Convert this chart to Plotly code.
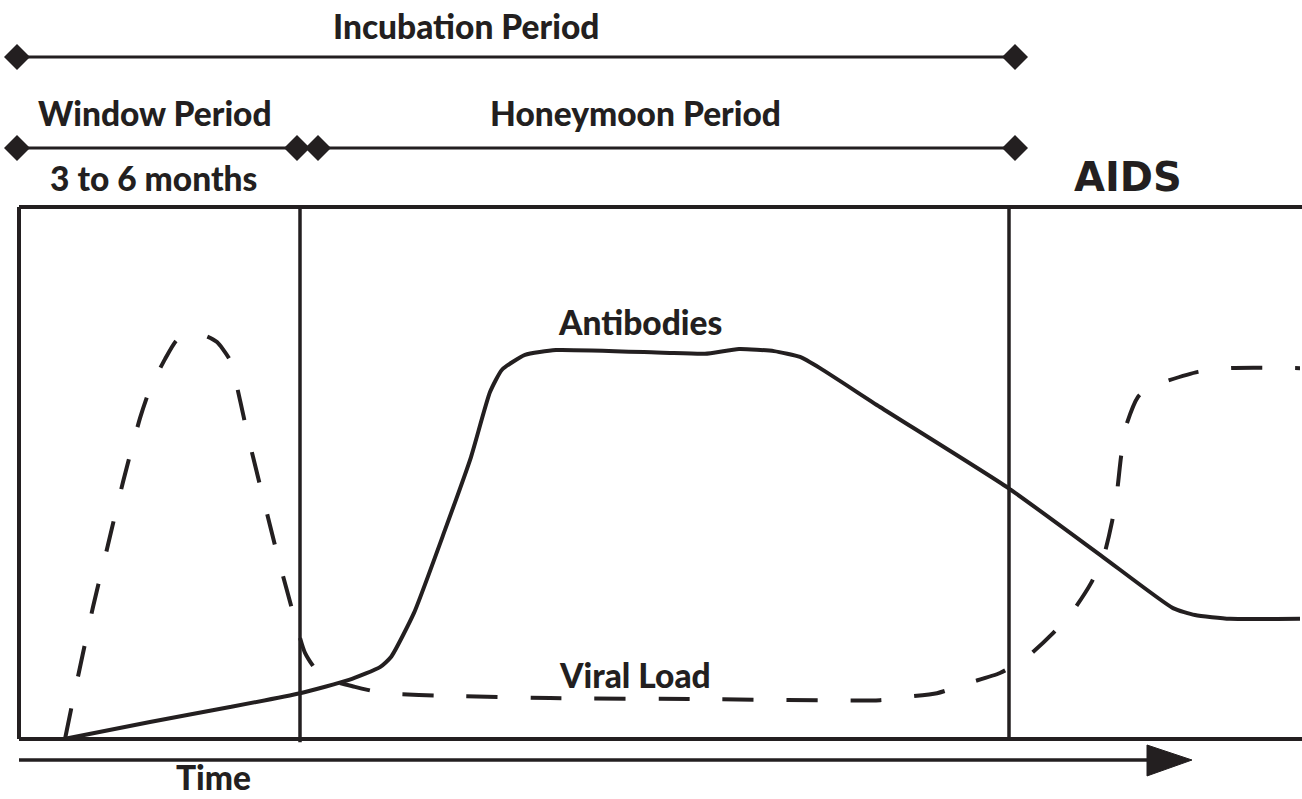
import plotly.graph_objects as go

# ---- data (time in arbitrary units, level in % of box height) ----
antibody_t = [4.5, 13.1, 21.1, 28.1, 33.0, 36.1, 37.2, 39.5, 42.6, 45.2, 47.1, 48.3, 50.6, 53.7,
              64.4, 68.6, 72.0, 75.5, 78.1, 80.1, 86.1, 98.9, 108.4, 115.4, 117.6, 121.1, 128.1]
antibody_v = [0.0, 3.2, 6.0, 8.6, 11.1, 13.5, 15.4, 23.7, 39.3, 53.0, 65.2, 69.4, 72.2, 73.1,
              72.6, 72.4, 73.3, 72.9, 71.8, 69.7, 62.4, 47.2, 34.2, 24.6, 23.3, 22.6, 22.6]

viral_t = [4.6, 5.3, 7.4, 8.9, 10.4, 12.1, 13.1, 14.6, 15.8, 17.1, 18.6, 19.8, 21.1, 22.1, 22.8,
           24.3, 25.9, 27.6, 28.6, 30.3, 33.6, 36.6, 43.1, 53.1, 68.1, 86.1, 88.7, 91.8, 94.9,
           98.1, 100.8, 103.3, 105.4, 107.2, 108.5, 109.3, 109.8, 110.2, 110.7, 111.9, 112.9,
           114.8, 117.9, 121.1, 128.1]
viral_v = [0.0, 6.4, 24.8, 36.5, 48.3, 60.3, 65.8, 71.4, 75.0, 75.9, 75.8, 74.6, 71.2, 63.7, 57.7,
           46.2, 34.2, 22.4, 16.2, 11.7, 9.8, 8.6, 8.1, 7.7, 7.5, 7.3, 7.9, 8.6, 10.5,
           12.4, 15.4, 19.7, 24.1, 29.3, 34.6, 40.8, 46.4, 53.0, 58.8, 64.3, 66.0,
           67.3, 69.0, 69.7, 69.7]

# period bars: (label, start, end)
period_names = ["Incubation Period", "Window Period", "Honeymoon Period"]
period_start = [-0.2, -0.2, 29.9]
period_end = [99.6, 27.8, 99.6]
period_level = [128.2, 111.1, 111.1]

# phase boundaries
boundaries = [28.1, 99.0]

INK = "#231f20"
FONT = "Lato"

fig = go.Figure()

fig.add_trace(go.Scatter(x=antibody_t, y=antibody_v, mode="lines",
                         line=dict(color=INK, width=4, shape="spline", smoothing=0.5),
                         showlegend=False, hoverinfo="skip"))
fig.add_trace(go.Scatter(x=viral_t, y=viral_v, mode="lines",
                         line=dict(color=INK, width=4, shape="spline", smoothing=0.6,
                                   dash="31px,33px"),
                         showlegend=False, hoverinfo="skip"))

# period bars with diamond ends
for s, e, lv in zip(period_start, period_end, period_level):
    fig.add_trace(go.Scatter(x=[s, e], y=[lv, lv], mode="lines+markers",
                             line=dict(color=INK, width=3),
                             marker=dict(symbol="diamond", size=20, color=INK),
                             showlegend=False, hoverinfo="skip"))

# box
LW = 4
fig.add_shape(type="line", x0=0, x1=130, y0=100, y1=100, line=dict(color=INK, width=LW))
fig.add_shape(type="line", x0=0, x1=130, y0=0, y1=0, line=dict(color=INK, width=LW))
fig.add_shape(type="line", x0=0, x1=0, y0=0, y1=100, line=dict(color=INK, width=LW))
fig.add_shape(type="line", x0=boundaries[0], x1=boundaries[0], y0=-0.6, y1=100,
              line=dict(color=INK, width=3.5))
fig.add_shape(type="line", x0=boundaries[1], x1=boundaries[1], y0=0, y1=100,
              line=dict(color=INK, width=3.5))

# time arrow
fig.add_shape(type="line", x0=0, x1=113.5, y0=-3.95, y1=-3.95, line=dict(color=INK, width=3.5))
fig.add_shape(type="path", path="M 112.8,-1.13 L 117.3,-3.95 L 112.8,-6.95 Z",
              fillcolor=INK, line=dict(color=INK, width=1))

def label(text, x, y, size, family=FONT, weight=900, yanchor="middle"):
    fig.add_annotation(x=x, y=y, text=text, showarrow=False, xanchor="center", yanchor=yanchor,
                       font=dict(family=family, size=size, color=INK, weight=weight))

TS = 33.5
label(period_names[0], 44.7, 134.0, TS)
label(period_names[1], 13.6, 117.6, TS)
label(period_names[2], 61.6, 117.6, TS)
label("3 to 6 months", 13.4, 105.5, TS)
label("AIDS", 110.9, 105.6, 40, family="DejaVu Sans", weight=700)
label("Antibodies", 62.1, 78.4, TS)
label("Viral Load", 61.6, 12.0, TS)
label("Time", 19.4, -11.25, TS, yanchor="bottom")

fig.update_layout(width=1302, height=799, margin=dict(l=0, r=0, t=0, b=0),
                  paper_bgcolor="white", plot_bgcolor="white")
fig.update_xaxes(range=[-1.9, 128.3], visible=False, fixedrange=True)
fig.update_yaxes(range=[-11.28, 138.9], visible=False, fixedrange=True)

fig.write_html("out.html", config={"displayModeBar": False},
               post_script="document.body.style.margin='0';document.body.style.overflow='hidden';")
